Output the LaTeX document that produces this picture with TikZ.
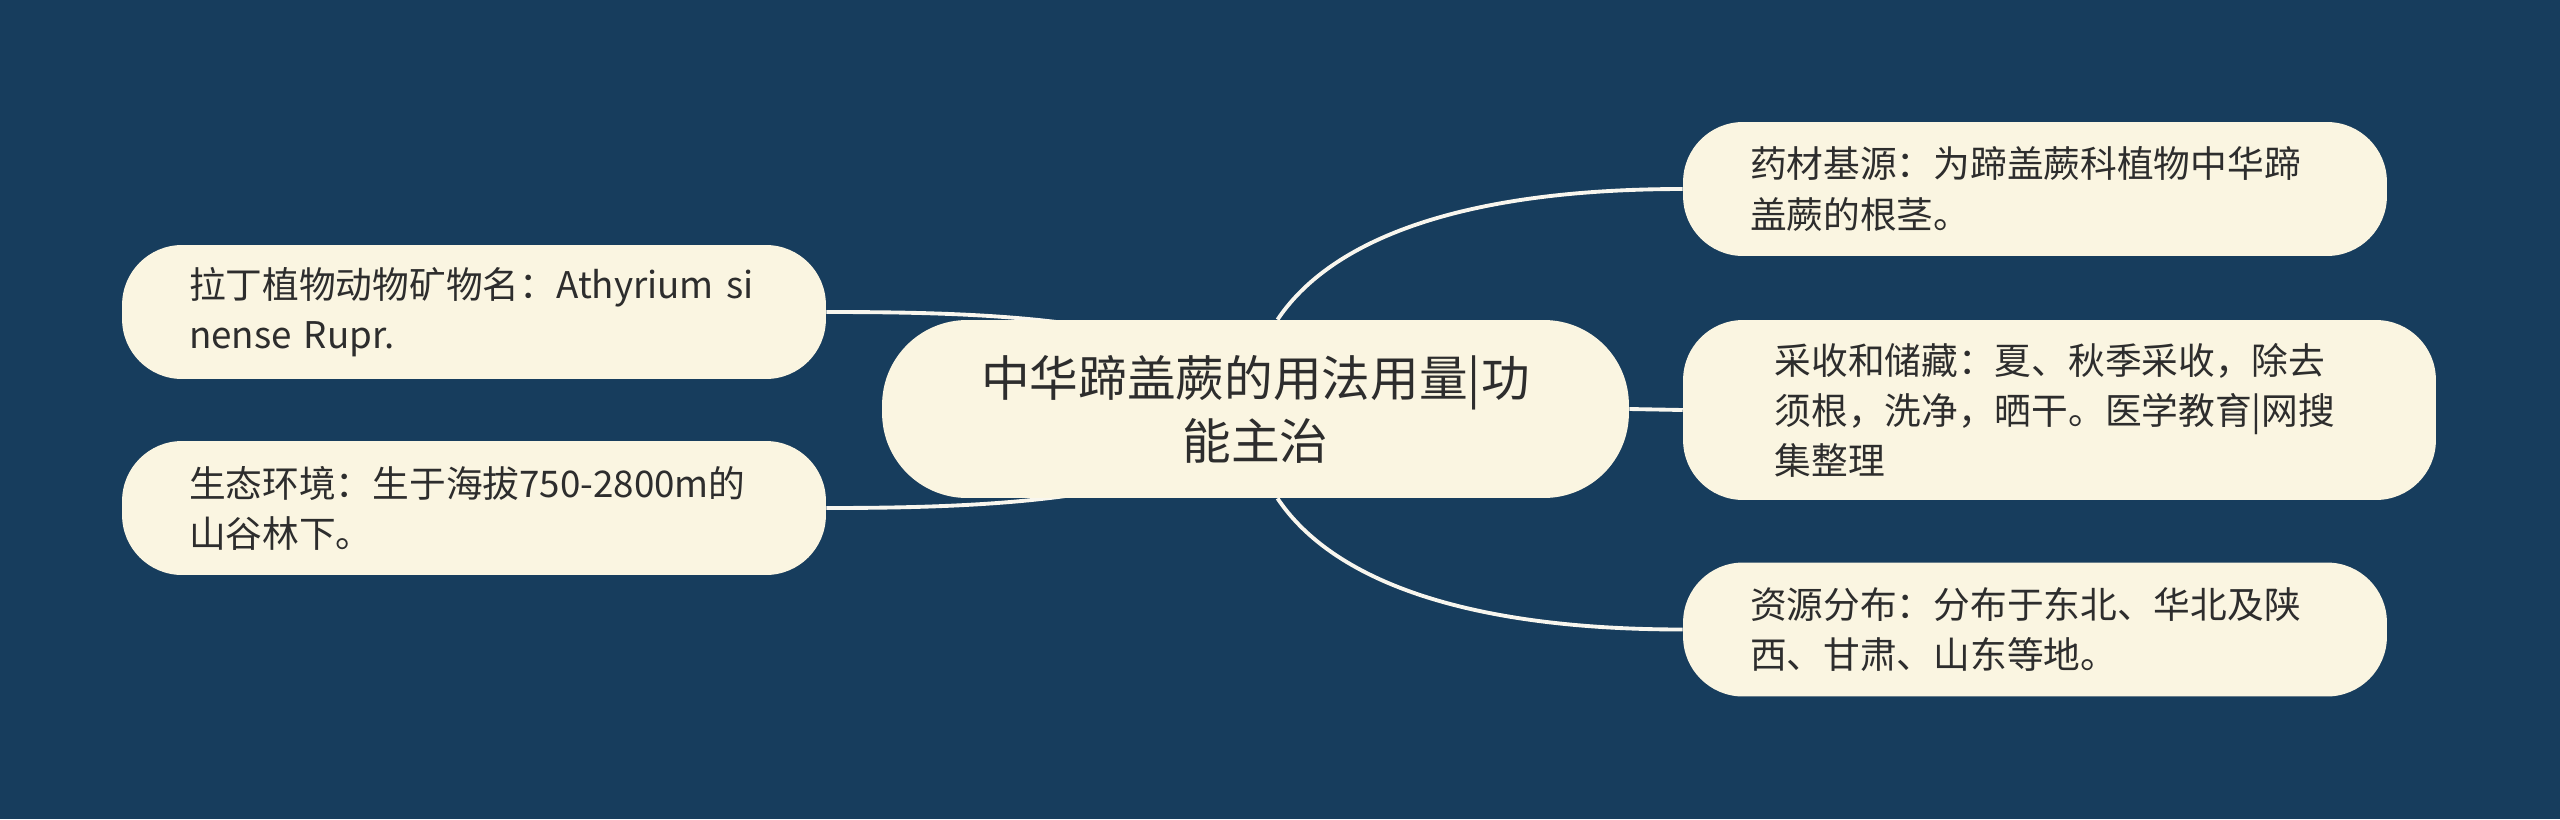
\documentclass[tikz,border=0pt]{standalone}
\usepackage{fontspec}
\newfontfamily\cjkfont{Noto Sans CJK SC}
\usetikzlibrary{positioning}
\definecolor{bgblue}{RGB}{23,61,93}
\definecolor{leafcream}{RGB}{250,245,225}
\definecolor{inkgrey}{RGB}{45,45,45}
\definecolor{linecream}{RGB}{248,246,238}
\pgfdeclarelayer{backdrop}
\pgfdeclarelayer{links}
\pgfsetlayers{backdrop,links,main}
\tikzset{
	leaf/.style={fill=leafcream, text=inkgrey, rounded corners=1.2cm, minimum height=2.68cm, inner xsep=1.34cm, inner ysep=0pt, text width=11.4cm, align=left, font=\cjkfont\fontsize{20.9pt}{28.5pt}\selectfont},
	root/.style={fill=leafcream, text=inkgrey, rounded corners=1.7cm, minimum width=14.94cm, minimum height=3.56cm, align=center, font=\cjkfont\fontsize{27.7pt}{35.8pt}\selectfont},
	link/.style={draw=linecream, line width=2.2pt}
}

\begin{document}
\begin{tikzpicture}[x=0.02cm, y=-0.02cm]
			%%%%% START %%%%%
			\begin{pgfonlayer}{backdrop}
			\fill[bgblue] (0, 0) rectangle (2560, 819);
			\end{pgfonlayer}
			\useasboundingbox (0, 0) rectangle (2560, 819);
			
			\node[root] (zhonghua) at (1255.5, 409) {中华蹄盖蕨的用法用量|功\\能主治};
			
			\node[leaf] (lading) at (474, 312) {拉丁植物动物矿物名：Athyrium~si\\nense Rupr.};
			\node[leaf] (shengtai) at (474, 508) {生态环境：生于海拔750-2800m的\\山谷林下。};
			
			\node[leaf] (yaocai) at (2035, 189) {药材基源：为蹄盖蕨科植物中华蹄\\盖蕨的根茎。};
			\node[leaf, minimum height=3.6cm, inner xsep=1.83cm] (caishou) at (2059.5, 410) {采收和储藏：夏、秋季采收，除去\\须根，洗净，晒干。医学教育|网搜\\集整理};
			\node[leaf] (ziyuan) at (2035, 629.5) {资源分布：分布于东北、华北及陕\\西、甘肃、山东等地。};
			
			\begin{pgfonlayer}{links}
			\draw[link] (lading.east) .. controls +(170, 0) and +(-45, -91) .. (zhonghua.center);
			\draw[link] (shengtai.east) .. controls +(170, 0) and +(-45, 91) .. (zhonghua.center);
			\draw[link] ([xshift=0.44cm]zhonghua.north) .. controls +(50, -75) and +(-233, 0) .. (yaocai.west);
			\draw[link] (zhonghua.east) -- (caishou.west);
			\draw[link] ([xshift=0.44cm]zhonghua.south) .. controls +(50, 75) and +(-233, 0) .. (ziyuan.west);
			\end{pgfonlayer}
			%%%%% END %%%%%
\end{tikzpicture}
\end{document}
